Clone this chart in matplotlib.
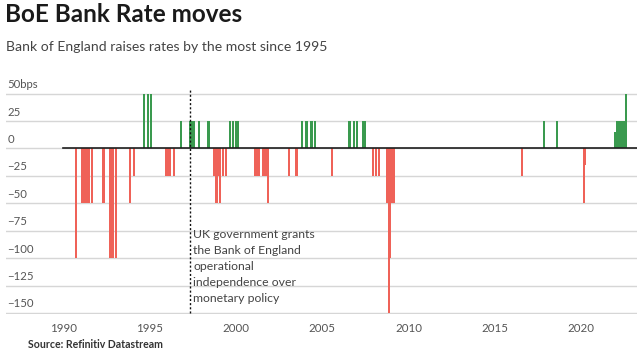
import matplotlib
matplotlib.use('Agg')
import matplotlib.pyplot as plt
import matplotlib.dates as mdates
import pandas as pd

# BoE Bank Rate changes (basis points)
move_dates = [
    '1990-10-08', '1991-02-13', '1991-02-27', '1991-03-22', '1991-04-12',
    '1991-05-24', '1991-07-12', '1991-09-04', '1992-05-05', '1992-09-22',
    '1992-10-16', '1992-11-13', '1993-01-26', '1993-11-23', '1994-02-08',
    '1994-09-12', '1994-12-07', '1995-02-02', '1995-12-13', '1996-01-18',
    '1996-03-08', '1996-06-06', '1996-10-30', '1997-05-06', '1997-06-06',
    '1997-07-10', '1997-08-07', '1997-11-06', '1998-06-04', '1998-10-08',
    '1998-11-05', '1998-12-10', '1999-01-07', '1999-02-04', '1999-04-08',
    '1999-06-10', '1999-09-08', '1999-11-04', '2000-01-13', '2000-02-10',
    '2001-02-08', '2001-04-05', '2001-05-10', '2001-08-02', '2001-09-18',
    '2001-10-04', '2001-11-08', '2003-02-06', '2003-07-10', '2003-11-06',
    '2004-02-05', '2004-05-06', '2004-06-10', '2004-08-05', '2005-08-04',
    '2006-08-03', '2006-11-09', '2007-01-11', '2007-05-10', '2007-07-05',
    '2007-12-06', '2008-02-07', '2008-04-10', '2008-10-08', '2008-11-06',
    '2008-12-04', '2009-01-08', '2009-02-05', '2009-03-05', '2016-08-04',
    '2017-11-02', '2018-08-02', '2020-03-11', '2020-03-19', '2021-12-16',
    '2022-02-03', '2022-03-17', '2022-05-05', '2022-06-16', '2022-08-04',
]
move_bps = [
    -100, -50, -50, -50, -50,
    -50, -50, -50, -50, -100,
    -100, -100, -100, -50, -25,
    50, 50, 50, -25, -25,
    -25, -25, 25, 25, 25,
    25, 25, 25, 25, -25,
    -50, -50, -25, -50, -25,
    -25, 25, 25, 25, 25,
    -25, -25, -25, -25, -25,
    -25, -50, -25, -25, 25,
    25, 25, 25, 25, -25,
    25, 25, 25, 25, 25,
    -25, -25, -25, -50, -150,
    -100, -50, -50, -50, -25,
    25, 25, -50, -15, 15,
    25, 25, 25, 25, 50,
]

y_ticks = [50, 25, 0, -25, -50, -75, -100, -125, -150]
y_labels = ['50bps', '25', '0', '\u221225', '\u221250', '\u221275', '\u2212100', '\u2212125', '\u2212150']
x_years = [1990, 1995, 2000, 2005, 2010, 2015, 2020]

independence_date = '1997-05-06'
note = 'UK government grants\nthe Bank of England\noperational\nindependence over\nmonetary policy'

plt.rcParams['font.family'] = ['Lato', 'DejaVu Sans']

GREEN = '#3a9a4f'
RED = '#ef6258'
TEXT = '#444444'

dates = mdates.date2num(pd.to_datetime(move_dates))
colors = [GREEN if v > 0 else RED for v in move_bps]

W, H = 640, 353
fig = plt.figure(figsize=(W / 100, H / 100), dpi=100)
ax = fig.add_axes([6 / W, 1 - 313.5 / H, (637 - 6) / W, (313.5 - 86) / H])

ax.bar(dates, move_bps, width=44, color=colors, linewidth=0, zorder=3)

x0 = mdates.date2num(pd.Timestamp('1986-09-12'))
x1 = mdates.date2num(pd.Timestamp('2023-03-28'))
ax.set_xlim(x0, x1)
ax.set_ylim(-150.5, 57)

for t in y_ticks:
    ax.axhline(t, color='#d6d6d6', linewidth=1, zorder=1)
start = mdates.date2num(pd.Timestamp('1990-01-01'))
ax.plot([start, x1], [0, 0], color='#1e1e1e', linewidth=1.2, zorder=4)

for t, lab in zip(y_ticks, y_labels):
    ax.annotate(lab, xy=(0, t), xycoords=('axes fraction', 'data'),
                xytext=(1, 2.5), textcoords='offset points',
                ha='left', va='bottom', fontsize=8.2, color='#555555')

xt = mdates.date2num(pd.to_datetime([f'{y}-01-01' for y in x_years]))
ax.set_xticks(xt)
ax.set_xticklabels([str(y) for y in x_years])
ax.tick_params(axis='x', length=0, pad=7, labelsize=8.3, labelcolor='#555555')
ax.set_yticks([])
for s in ax.spines.values():
    s.set_visible(False)

ix = mdates.date2num(pd.Timestamp(independence_date))
ax.plot([ix, ix], [-150, 55.5], color='#111111', linewidth=1,
        linestyle=(0, (1.5, 1.5)), zorder=5)
ax.annotate(note, xy=(ix, -73.5), xycoords='data', xytext=(2.5, 0),
            textcoords='offset points', ha='left', va='top',
            fontsize=8.8, color=TEXT, linespacing=1.55, zorder=6)

fig.text(5 / W, 1 - 15 / H, 'BoE Bank Rate moves', fontsize=17.5,
         fontweight='bold', color='#1a1a1a', va='center', ha='left')
fig.text(6 / W, 1 - 47 / H, 'Bank of England raises rates by the most since 1995',
         fontsize=10.1, color=TEXT, va='center', ha='left')
fig.text(28 / W, 1 - 345 / H, 'Source: Refinitiv Datastream', fontsize=7.6,
         fontweight='bold', color='#333333', va='center', ha='left')

fig.savefig('out.png', dpi=100, facecolor='white')
